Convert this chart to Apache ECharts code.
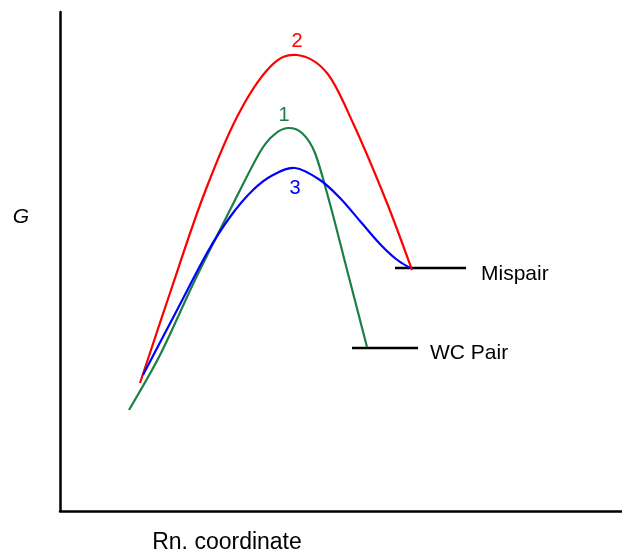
<!DOCTYPE html>
<html><head><meta charset="utf-8">
<script src="https://cdn.jsdelivr.net/npm/echarts@6/dist/echarts.min.js"></script>
<style>html,body{margin:0;padding:0;background:#fff}#c{width:622px;height:553px}</style>
</head><body><div id="c"></div>
<script>
// Reaction profile curves (x = reaction coordinate units, y = G units)
const curve2 = [[80,128],[110,218],[143,314],[177,394],[210,444],[237,456],[267,438],[293,388],[327,308],[352,241]];
const curve1 = [[69,101],[100,156],[135,231],[170,301],[200,359],[215,377],[228,383],[242,378],[255,358],[270,307],[285,249],[307,164]];
const curve3 = [[83,136],[115,197],[147,258],[170,294],[193,321],[213,336],[235,343],[260,331],[280,313],[300,290],[320,267],[336,252],[350,243]];
const mispairLevel = [[335,243],[406,243]];
const wcPairLevel = [[292,163],[358,163]];
const curveLabels = [["2",237,470,"#ff0000"],["1",224,396,"#1a7f45"],["3",235,323,"#0000ff"]];
const levelLabels = [["Mispair",421,237],["WC Pair",370,158]];
const axisTitleX = "Rn. coordinate";
const axisTitleY = "G";

const FONT = "Liberation Sans";
const chart = echarts.init(document.getElementById('c'), null, {renderer:'canvas'});

// Smooth curve (Catmull-Rom) through the data points, positioned via the chart's own scales
function curveSeries(data, color) {
  return {
    type:'custom', data, silent:true, z:3, clip:false,
    encode:{x:0, y:1},
    renderItem(params, api) {
      if (params.dataIndex !== 0) return null;
      const p = data.map(d => api.coord(d));
      let path = 'M' + p[0][0] + ',' + p[0][1];
      for (let i = 0; i < p.length - 1; i++) {
        const p0 = p[i - 1] || p[i], p1 = p[i], p2 = p[i + 1], p3 = p[i + 2] || p[i + 1];
        const c1 = [p1[0] + (p2[0] - p0[0]) / 6, p1[1] + (p2[1] - p0[1]) / 6];
        const c2 = [p2[0] - (p3[0] - p1[0]) / 6, p2[1] - (p3[1] - p1[1]) / 6];
        path += 'C' + c1[0] + ',' + c1[1] + ' ' + c2[0] + ',' + c2[1] + ' ' + p2[0] + ',' + p2[1];
      }
      return {type:'path', shape:{pathData:path}, style:{stroke:color, fill:'none', lineWidth:2.2}};
    }
  };
}

chart.setOption({
  animation:false,
  grid:{left:60, top:12, right:0, bottom:42, containLabel:false},
  xAxis:{type:'value', min:0, max:562, splitLine:{show:false}, axisTick:{show:false}, axisLabel:{show:false},
    axisLine:{show:true, onZero:false, lineStyle:{color:'#000', width:2.5}}},
  yAxis:{type:'value', min:0, max:499, splitLine:{show:false}, axisTick:{show:false}, axisLabel:{show:false},
    axisLine:{show:true, onZero:false, lineStyle:{color:'#000', width:2.5}}},
  series:[
    curveSeries(curve2,'#ff0000'),
    curveSeries(curve1,'#1a7f45'),
    curveSeries(curve3,'#0000ff'),
    {type:'line', data:mispairLevel, symbol:'none', silent:true, lineStyle:{color:'#000', width:2.5}, z:2},
    {type:'line', data:wcPairLevel, symbol:'none', silent:true, lineStyle:{color:'#000', width:2.5}, z:2},
    {type:'scatter', symbolSize:0, z:5, silent:true, itemStyle:{opacity:1},
      data:curveLabels.map(d=>({value:[d[1],d[2]], name:d[0], label:{color:d[3]}})),
      label:{show:true, position:'inside', formatter:p=>p.name, fontSize:20, fontFamily:FONT, opacity:1}},
    {type:'scatter', symbolSize:0, z:5, silent:true, itemStyle:{opacity:1},
      data:levelLabels.map(d=>({value:[d[1],d[2]], name:d[0]})),
      label:{show:true, position:'right', distance:0, formatter:p=>p.name, fontSize:21, color:'#000', fontFamily:FONT, opacity:1}}
  ],
  graphic:[
    {type:'text', x:227, y:543, style:{text:axisTitleX, fill:'#000', fontSize:23, fontFamily:FONT, align:'center', verticalAlign:'middle'}},
    {type:'text', x:21, y:217, style:{text:axisTitleY, fill:'#000', fontSize:21, fontStyle:'italic', fontFamily:FONT, align:'center', verticalAlign:'middle'}}
  ]
});
</script></body></html>
